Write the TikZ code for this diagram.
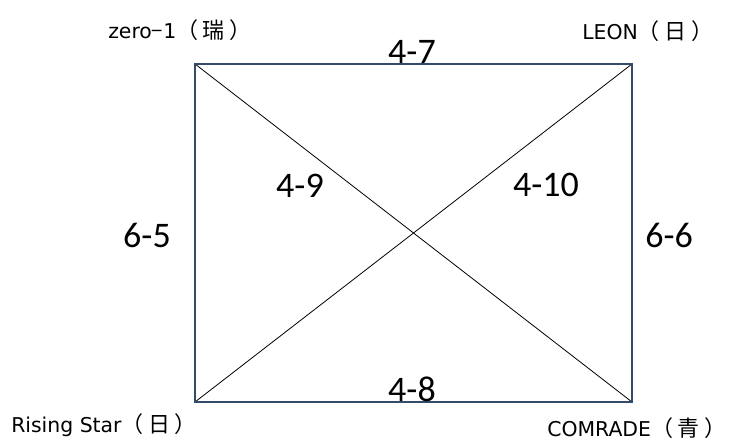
\documentclass[tikz,border=0pt]{standalone}
\usepackage{fontspec}
\setmainfont{Carlito}
\newfontfamily\jpfont{Noto Sans CJK JP}
\newfontfamily\latinfont{DejaVu Sans}
\newcommand{\cjkpart}[1]{{\jpfont\fontsize{16.5}{19}\selectfont（\hspace{3.5pt}#1\hspace{3.5pt}）}}
\definecolor{frameblue}{RGB}{52,76,106}
\begin{document}
\begin{tikzpicture}[x=0.75pt,y=-0.75pt,
  edgelabel/.style={inner sep=0pt,font=\fontsize{27}{32}\selectfont},
  teamlabel/.style={inner sep=0pt,font=\latinfont\fontsize{15.3}{19}\selectfont},
  frame/.style={draw=frameblue,line width=1.6pt},
  diag/.style={draw=black,line width=0.6pt}]
\useasboundingbox (0,0) rectangle (739,448);
\coordinate (tl) at (195,64);
\coordinate (tr) at (632,64);
\coordinate (bl) at (195,402);
\coordinate (br) at (632,402);
\draw[diag] (tl) -- (br);
\draw[diag] (tr) -- (bl);
\draw[frame] (tl) -- (tr) -- (br) -- (bl) -- cycle;
\node[edgelabel] (l47) at (412,52) {4-7};
\node[edgelabel] (l48) at (412,389) {4-8};
\node[edgelabel] (l49) at (300,186) {4-9};
\node[edgelabel] (l410) at (546,185) {4-10};
\node[edgelabel] (l65) at (147,235) {6-5};
\node[edgelabel] (l66) at (669,235) {6-6};
\node[teamlabel,anchor=west] (zero) at (108,30) {zero{\jpfont −}1\cjkpart{瑞}};
\node[teamlabel,anchor=west] (leon) at (582,31) {LEON\cjkpart{日}};
\node[teamlabel,anchor=west] (rising) at (11,425) {Rising Star\cjkpart{日}};
\node[teamlabel,anchor=west] (comrade) at (547,428) {COMRADE\cjkpart{青}};
\end{tikzpicture}
\end{document}
